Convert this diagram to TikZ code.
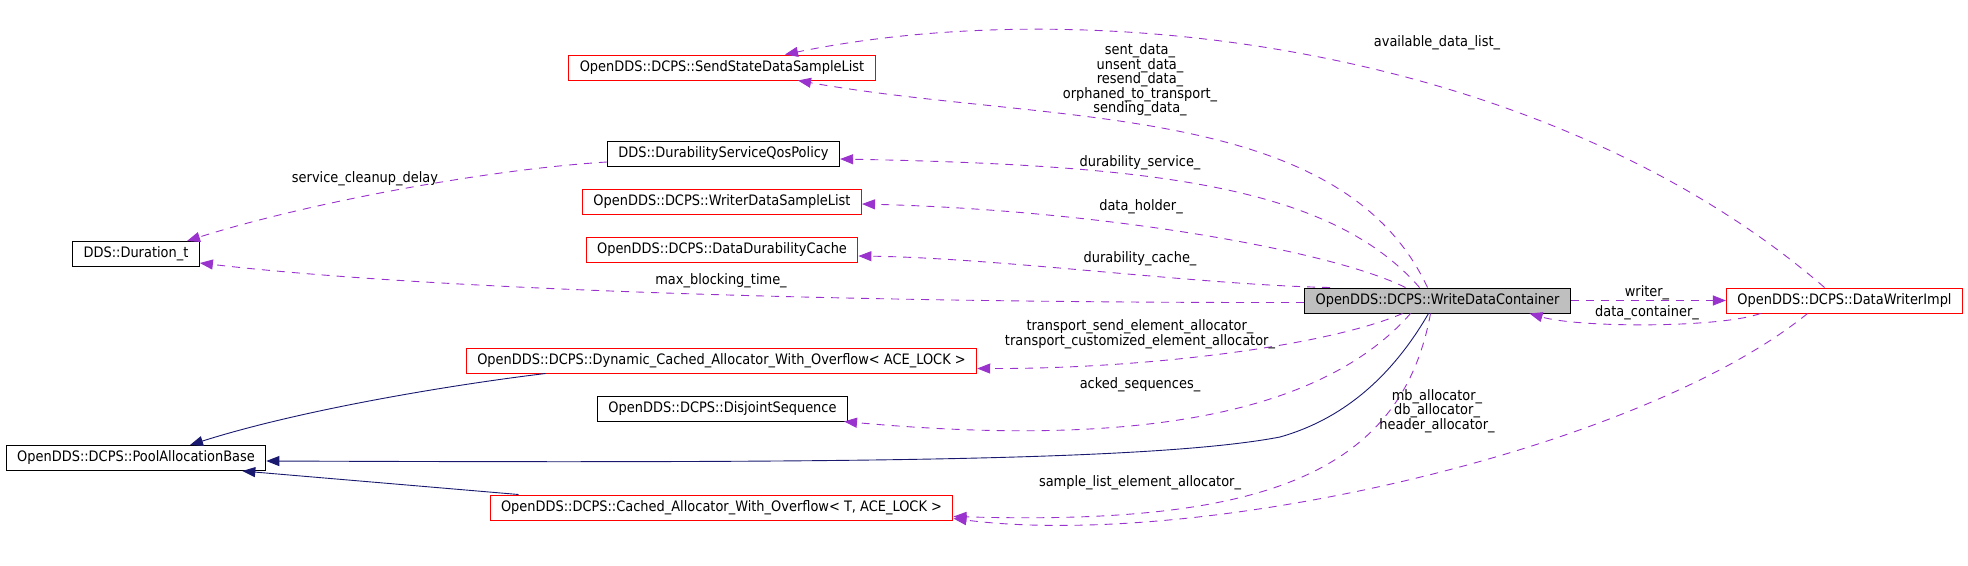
\documentclass[tikz,border=0pt]{standalone}
\usepackage{fontspec}
\setmainfont{DejaVu Sans}[FakeStretch=0.9]
\usetikzlibrary{arrows.meta,positioning}
\definecolor{orchid}{HTML}{9A32CD}
\definecolor{midnight}{HTML}{191970}
\definecolor{boxgrey}{HTML}{BFBFBF}

\begin{document}
\begin{tikzpicture}[x=1pt,y=-1pt,
  font=\fontsize{14.4}{14.5}\selectfont,
  cls/.style={draw=black,line width=1pt,minimum height=25pt,inner xsep=11pt,inner ysep=0pt},
  redcls/.style={cls,draw=red},
  uses/.style={draw=orchid,line width=0.9pt,dash pattern=on 8pt off 7pt,-{Triangle[length=13pt,width=10pt]}},
  isa/.style={draw=midnight,line width=0.9pt,-{Triangle[length=13pt,width=10pt]}},
  lbl/.style={inner sep=0pt,align=center}]
\useasboundingbox (0,0) rectangle (1968,565);

% classes
\node[redcls] (sendlist) at (722,67.5) {OpenDDS::DCPS::SendStateDataSampleList};
\node[cls] (durqos) at (723.5,154) {DDS::DurabilityServiceQosPolicy};
\node[redcls] (wdslist) at (722,202) {OpenDDS::DCPS::WriterDataSampleList};
\node[redcls] (ddcache) at (722,250) {OpenDDS::DCPS::DataDurabilityCache};
\node[cls] (duration) at (136,254) {DDS::Duration\_t};
\node[cls,fill=boxgrey] (wdc) at (1437.5,300.5) {OpenDDS::DCPS::WriteDataContainer};
\node[redcls] (dwimpl) at (1844.5,300.5) {OpenDDS::DCPS::DataWriterImpl};
\node[redcls] (dyncache) at (721.5,360.5) {OpenDDS::DCPS::Dynamic\_Cached\_Allocator\_With\_Overflow< ACE\_LOCK >};
\node[cls] (disjoint) at (722.5,408.5) {OpenDDS::DCPS::DisjointSequence};
\node[cls] (poolbase) at (136,458) {OpenDDS::DCPS::PoolAllocationBase};
\node[redcls] (cachedalloc) at (721.5,507.5) {OpenDDS::DCPS::Cached\_Allocator\_With\_Overflow< T, ACE\_LOCK >};

% inheritance
\draw[isa] ([xshift=-9pt]wdc.south) .. controls (1390,380) and (1340,420) .. (1280,437)
  .. controls (1150,462) and (800,463) .. ([yshift=-3pt]poolbase.east);
\draw[isa] ([xshift=-176pt]dyncache.south) .. controls (450,385) and (300,410) .. ([xshift=54pt]poolbase.north);
\draw[isa] ([xshift=-203pt]cachedalloc.north) -- ([xshift=-24pt]poolbase.south east);

% members
\draw[uses] ([xshift=-20pt]dwimpl.north) .. controls (1550,50) and (1100,-10) .. ([xshift=63pt]sendlist.north);
\draw[uses] ([xshift=-10pt]wdc.north) .. controls (1340,100) and (1050,125) .. ([xshift=76pt]sendlist.south);
\draw[uses] ([xshift=-18pt]wdc.north) .. controls (1330,185) and (1150,165) .. ([yshift=-5pt]durqos.east);
\draw[uses] ([xshift=-32pt]wdc.north) .. controls (1330,250) and (1100,210) .. ([yshift=-2pt]wdslist.east);
\draw[uses] ([xshift=26pt]wdc.north west) .. controls (1200,285) and (1000,258) .. ([yshift=-6pt]ddcache.east);
\draw[uses] ([yshift=-2pt]wdc.west) .. controls (900,303) and (450,292) .. ([yshift=-9pt]duration.east);
\draw[uses] ([yshift=-8pt]durqos.west) .. controls (480,170) and (300,205) .. ([xshift=51pt]duration.north);
\draw[uses] ([xshift=-35pt]wdc.south) .. controls (1330,345) and (1150,369) .. ([yshift=-8pt]dyncache.east);
\draw[uses] ([xshift=-27pt]wdc.south) .. controls (1300,440) and (1050,440) .. ([xshift=-4pt]disjoint.south east);
\draw[uses] ([xshift=-7pt]wdc.south) .. controls (1400,480) and (1250,525) .. ([yshift=-9pt]cachedalloc.east);
\draw[uses] ([xshift=-37pt]dwimpl.south) .. controls (1640,450) and (1200,550) .. ([yshift=-11pt]cachedalloc.east);
\draw[uses] (wdc.east) -- (dwimpl.west);
\draw[uses] ([xshift=-84pt]dwimpl.south) .. controls (1720,328) and (1580,328) .. ([xshift=92pt]wdc.south);

% edge labels
\node[lbl] (lavail) at (1437,43) {available\_data\_list\_};
\node[lbl] (lsent) at (1140,80) {sent\_data\_\\unsent\_data\_\\resend\_data\_\\orphaned\_to\_transport\_\\sending\_data\_};
\node[lbl] (ldurserv) at (1140,163) {durability\_service\_};
\node[lbl] (lholder) at (1141,207) {data\_holder\_};
\node[lbl] (lcache) at (1140,259) {durability\_cache\_};
\node[lbl] (lmax) at (721,281) {max\_blocking\_time\_};
\node[lbl] (lservice) at (365,179) {service\_cleanup\_delay};
\node[lbl] (ltransport) at (1140,334) {transport\_send\_element\_allocator\_\\transport\_customized\_element\_allocator\_};
\node[lbl] (lacked) at (1140,385) {acked\_sequences\_};
\node[lbl] (lsample) at (1140,483) {sample\_list\_element\_allocator\_};
\node[lbl] (lmb) at (1437,411) {mb\_allocator\_\\db\_allocator\_\\header\_allocator\_};
\node[lbl] (lwriter) at (1647,293) {writer\_};
\node[lbl] (lcontainer) at (1647,313) {data\_container\_};
\end{tikzpicture}
\end{document}
